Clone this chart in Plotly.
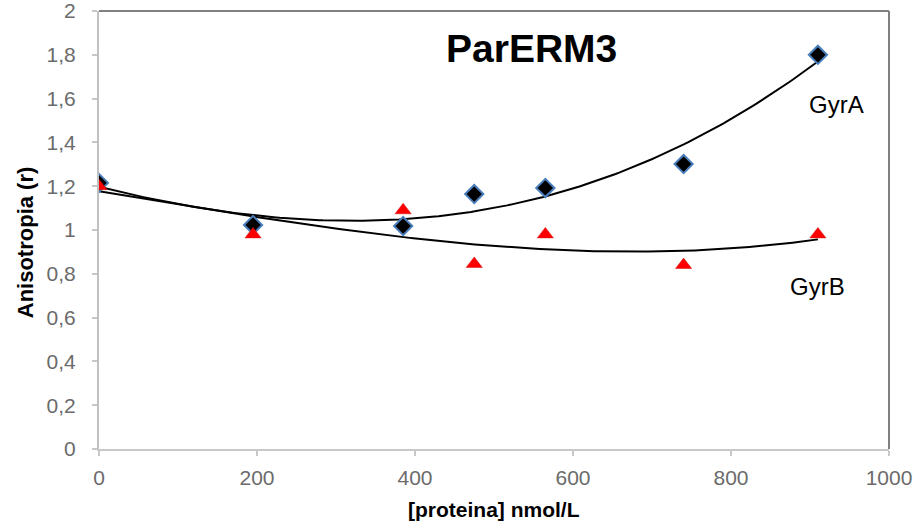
import numpy as np
import plotly.graph_objects as go

# Protein concentration (nmol/L) and measured anisotropy for each gyrase subunit
concentracion = [0, 195, 385, 475, 565, 740, 910]
gyrA = [1.215, 1.023, 1.018, 1.164, 1.192, 1.301, 1.80]
gyrB = [1.20, 0.98, 1.09, 0.845, 0.98, 0.84, 0.98]

x_ticks = [0, 200, 400, 600, 800, 1000]
x_labels = ["0", "200", "400", "600", "800", "1000"]
y_ticks = [0, 0.2, 0.4, 0.6, 0.8, 1.0, 1.2, 1.4, 1.6, 1.8, 2.0]
y_labels = ["0", "0,2", "0,4", "0,6", "0,8", "1", "1,2", "1,4", "1,6", "1,8", "2"]

# Polynomial trend lines fitted to each series
x_fit = np.linspace(min(concentracion), max(concentracion), 200)
fit_a = np.polyval(np.polyfit(concentracion, gyrA, 3), x_fit)
fit_b = np.polyval(np.polyfit(concentracion, gyrB, 3), x_fit)

fig = go.Figure()

fig.add_trace(go.Scatter(x=x_fit, y=fit_a, mode="lines",
                         line=dict(color="black", width=2), hoverinfo="skip"))
fig.add_trace(go.Scatter(x=x_fit, y=fit_b, mode="lines",
                         line=dict(color="black", width=2), hoverinfo="skip"))
fig.add_trace(go.Scatter(x=concentracion, y=gyrA, mode="markers", name="GyrA",
                         marker=dict(symbol="diamond", size=14, color="black",
                                     line=dict(color="#4a7ebb", width=2))))
fig.add_trace(go.Scatter(x=concentracion, y=gyrB, mode="markers", name="GyrB",
                         marker=dict(symbol="triangle-up", size=14, color="#ff0000",
                                     line=dict(color="#d01010", width=0.5))))

tick_font = dict(family="Liberation Sans Narrow, Liberation Sans, Arial", size=21, color="#6b6b6b")

fig.update_xaxes(range=[0, 1000], tickvals=x_ticks, ticktext=x_labels,
                 showgrid=False, zeroline=False, showline=True,
                 linecolor="#c8c8c8", linewidth=2,
                 ticks="outside", ticklen=5, tickwidth=2, tickcolor="#c8c8c8",
                 tickfont=tick_font, ticklabelstandoff=4, ticklabeloverflow="allow",
                 automargin=False)
fig.update_yaxes(range=[0, 2], tickvals=y_ticks, ticktext=y_labels,
                 showgrid=False, zeroline=False, showline=True,
                 linecolor="#c0c0c0", linewidth=2,
                 ticks="outside", ticklen=5, tickwidth=2, tickcolor="#c8c8c8",
                 tickfont=tick_font, ticklabelstandoff=12, ticklabeloverflow="allow",
                 automargin=False)

# Plot-area frame on the top and right edges
fig.add_shape(type="line", xref="paper", yref="paper", x0=0, x1=1, y0=1, y1=1,
              line=dict(color="#808080", width=2))
fig.add_shape(type="line", xref="paper", yref="paper", x0=1, x1=1, y0=0, y1=1,
              line=dict(color="#808080", width=2))

fig.add_annotation(text="<b>ParERM3</b>", xref="paper", yref="paper",
                   x=0.547, y=0.9155, xanchor="center", yanchor="middle", showarrow=False,
                   font=dict(family="Liberation Sans, Arial", size=39, color="black"))
fig.add_annotation(text="GyrA", x=934, y=1.571, xanchor="center", yanchor="middle",
                   showarrow=False, font=dict(family="Liberation Sans, Arial", size=24, color="black"))
fig.add_annotation(text="GyrB", x=909, y=0.74, xanchor="center", yanchor="middle",
                   showarrow=False, font=dict(family="Liberation Sans, Arial", size=24, color="black"))
fig.add_annotation(text="<b>[proteina] nmol/L</b>", xref="paper", yref="paper",
                   x=0.5, y=-0.139, xanchor="center", yanchor="middle", showarrow=False,
                   font=dict(family="Liberation Sans, Arial", size=21, color="black"))
fig.add_annotation(text="<b>Anisotropia (r)</b>", xref="paper", yref="paper",
                   x=-0.0937, y=0.472, xanchor="center", yanchor="middle", showarrow=False,
                   textangle=-90,
                   font=dict(family="Liberation Sans, Arial", size=22, color="black"))

fig.update_layout(width=920, height=526, showlegend=False,
                  margin=dict(l=99, r=31, t=11, b=77, autoexpand=False),
                  paper_bgcolor="white", plot_bgcolor="white")

fig.write_html("out.html")
